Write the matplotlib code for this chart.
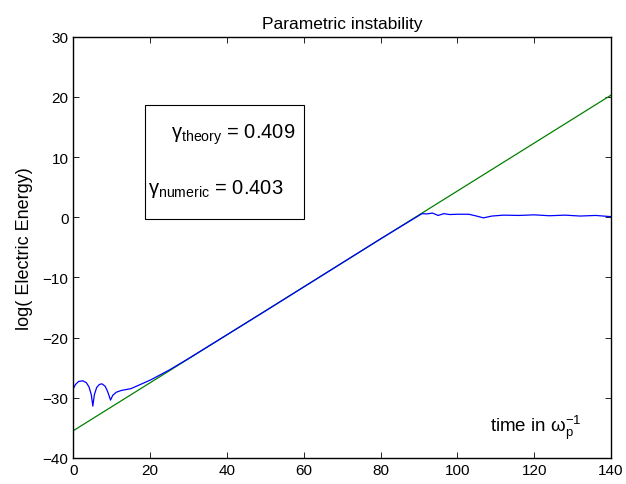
import matplotlib
matplotlib.use("Agg")
import matplotlib.pyplot as plt

plt.rcParams["font.family"] = ["Liberation Sans", "DejaVu Sans"]
plt.rcParams["mathtext.fontset"] = "custom"
plt.rcParams["mathtext.rm"] = "Liberation Sans"
plt.rcParams["mathtext.it"] = "Liberation Sans"

# fitted growth line
fit_t = [0, 140]
fit_y = [-35.5, 20.3]

# simulated log energy
sim_t = [0, 0.6, 1.4, 2.5, 3.4, 4.1, 4.7, 5.1, 5.5, 6.1, 6.8, 7.5, 8.3, 8.9, 9.4, 9.7,
         10.3, 11.2, 12.5, 15, 17.5, 20.3, 25, 30, 40, 50, 60, 70, 80, 90.8, 92, 93.5,
         95, 96.5, 98, 100, 103, 105, 106.8, 109, 112, 116, 120, 124, 128, 132, 136, 140]
sim_y = [-28.5, -27.8, -27.3, -27.2, -27.5, -28.2, -29.5, -31.4, -29.5, -28.3, -27.8,
         -27.7, -28.1, -28.9, -29.8, -30.4, -29.6, -29.1, -28.8, -28.5, -27.8, -27.0,
         -25.4, -23.5, -19.55, -15.6, -11.6, -7.6, -3.6, 0.6, 0.55, 0.7, 0.3, 0.6, 0.45,
         0.5, 0.5, 0.2, -0.1, 0.2, 0.35, 0.3, 0.4, 0.25, 0.35, 0.2, 0.3, 0.1]

fig = plt.figure(figsize=(6.26, 4.85), dpi=100)
ax = fig.add_axes([0.117, 0.054, 0.859, 0.868])

ax.plot(fit_t, fit_y, color="#008000", lw=0.9)
ax.plot(sim_t, sim_y, color="#0000ff", lw=0.9)

ax.set_xlim(0, 140)
ax.set_ylim(-40, 30)
ax.set_xticks(range(0, 141, 20))
ax.set_yticks(range(-40, 31, 10))
ax.set_yticklabels(["\u221240", "\u221230", "\u221220", "\u221210", "0", "10", "20", "30"])
ax.tick_params(direction="in", length=4, width=0.6, labelsize=11, top=True, right=True)
for s in ax.spines.values():
    s.set_linewidth(1.0)

ax.set_title("Parametric instability", fontsize=12.5, pad=6)
ax.set_ylabel("log( Electric Energy)", fontsize=13, labelpad=7)

ax.text(0.775, 0.04, "time in \u03c9$_{\\rm p}^{\u22121}$", transform=ax.transAxes,
        fontsize=13.5, ha="left", va="bottom")

box = plt.Rectangle((18.7, -0.3), 41.3, 18.9, fill=False, lw=0.8, ec="black")
ax.add_patch(box)
ax.text(57.8, 13.9, "\u03b3$_{\\rm theory}$ = 0.409", fontsize=14.5, ha="right", va="center")
ax.text(19.4, 4.8, "\u03b3$_{\\rm numeric}$ = 0.403", fontsize=14.5, ha="left", va="center")

fig.savefig("out.png", dpi=100)
